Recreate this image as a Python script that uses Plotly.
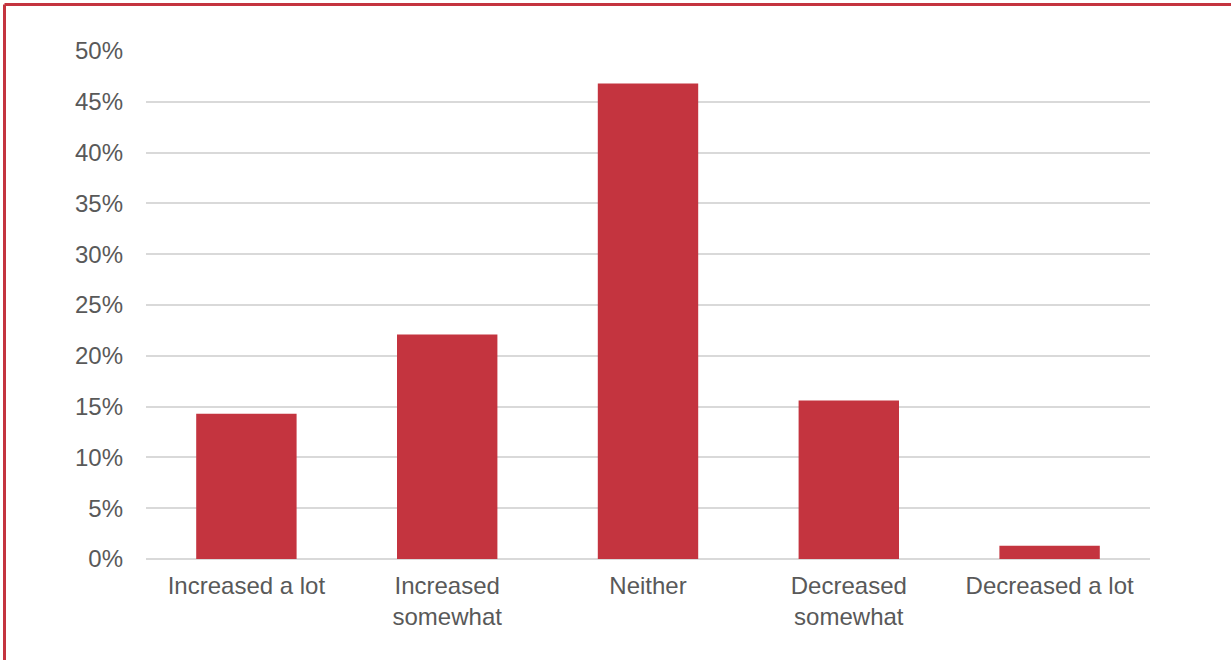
import plotly.graph_objects as go

categories = ["Increased a lot", "Increased<br>somewhat", "Neither",
              "Decreased<br>somewhat", "Decreased a lot"]
shares = [14.3, 22.1, 46.8, 15.6, 1.3]
tick_values = [0, 5, 10, 15, 20, 25, 30, 35, 40, 45, 50]
tick_labels = [f"{v}%" for v in tick_values]

RED = "rgb(196,52,63)"
W, H = 1231, 660
L, R, T, B = 146, 81, 51, 101

fig = go.Figure(go.Bar(
    x=categories, y=shares,
    marker=dict(color=RED, line=dict(width=0)),
    hoverinfo="x+y",
))

fig.update_layout(
    width=W, height=H,
    margin=dict(l=L, r=R, t=T, b=B),
    plot_bgcolor="white", paper_bgcolor="white",
    bargap=0.5,
    showlegend=False,
    font=dict(family="Liberation Sans, Arial, sans-serif", size=24, color="#595959"),
    xaxis=dict(showgrid=False, showline=False, ticks="", ticklabelstandoff=10,
               tickfont=dict(size=24, color="#595959")),
    yaxis=dict(range=[0, 50], tickvals=tick_values, ticktext=tick_labels,
               showgrid=True, gridcolor="#D9D9D9", gridwidth=1.5,
               zeroline=True, zerolinecolor="#D9D9D9", zerolinewidth=1.5,
               showline=False, ticks="", ticklabelstandoff=22,
               tickfont=dict(size=24, color="#595959")),
)

# frame lines along the top and left of the page
pw, ph = W - L - R, H - T - B
x_left = (4.5 - L) / pw
y_top = 1 + (T - 4.5) / ph
fig.add_shape(type="line", xref="paper", yref="paper",
              x0=x_left, x1=(W + 5 - L) / pw, y0=y_top, y1=y_top,
              line=dict(color=RED, width=3), layer="above")
fig.add_shape(type="line", xref="paper", yref="paper",
              x0=x_left, x1=x_left, y0=y_top, y1=-(B + 5) / ph,
              line=dict(color=RED, width=3), layer="above")

fig.write_html("out.html")
